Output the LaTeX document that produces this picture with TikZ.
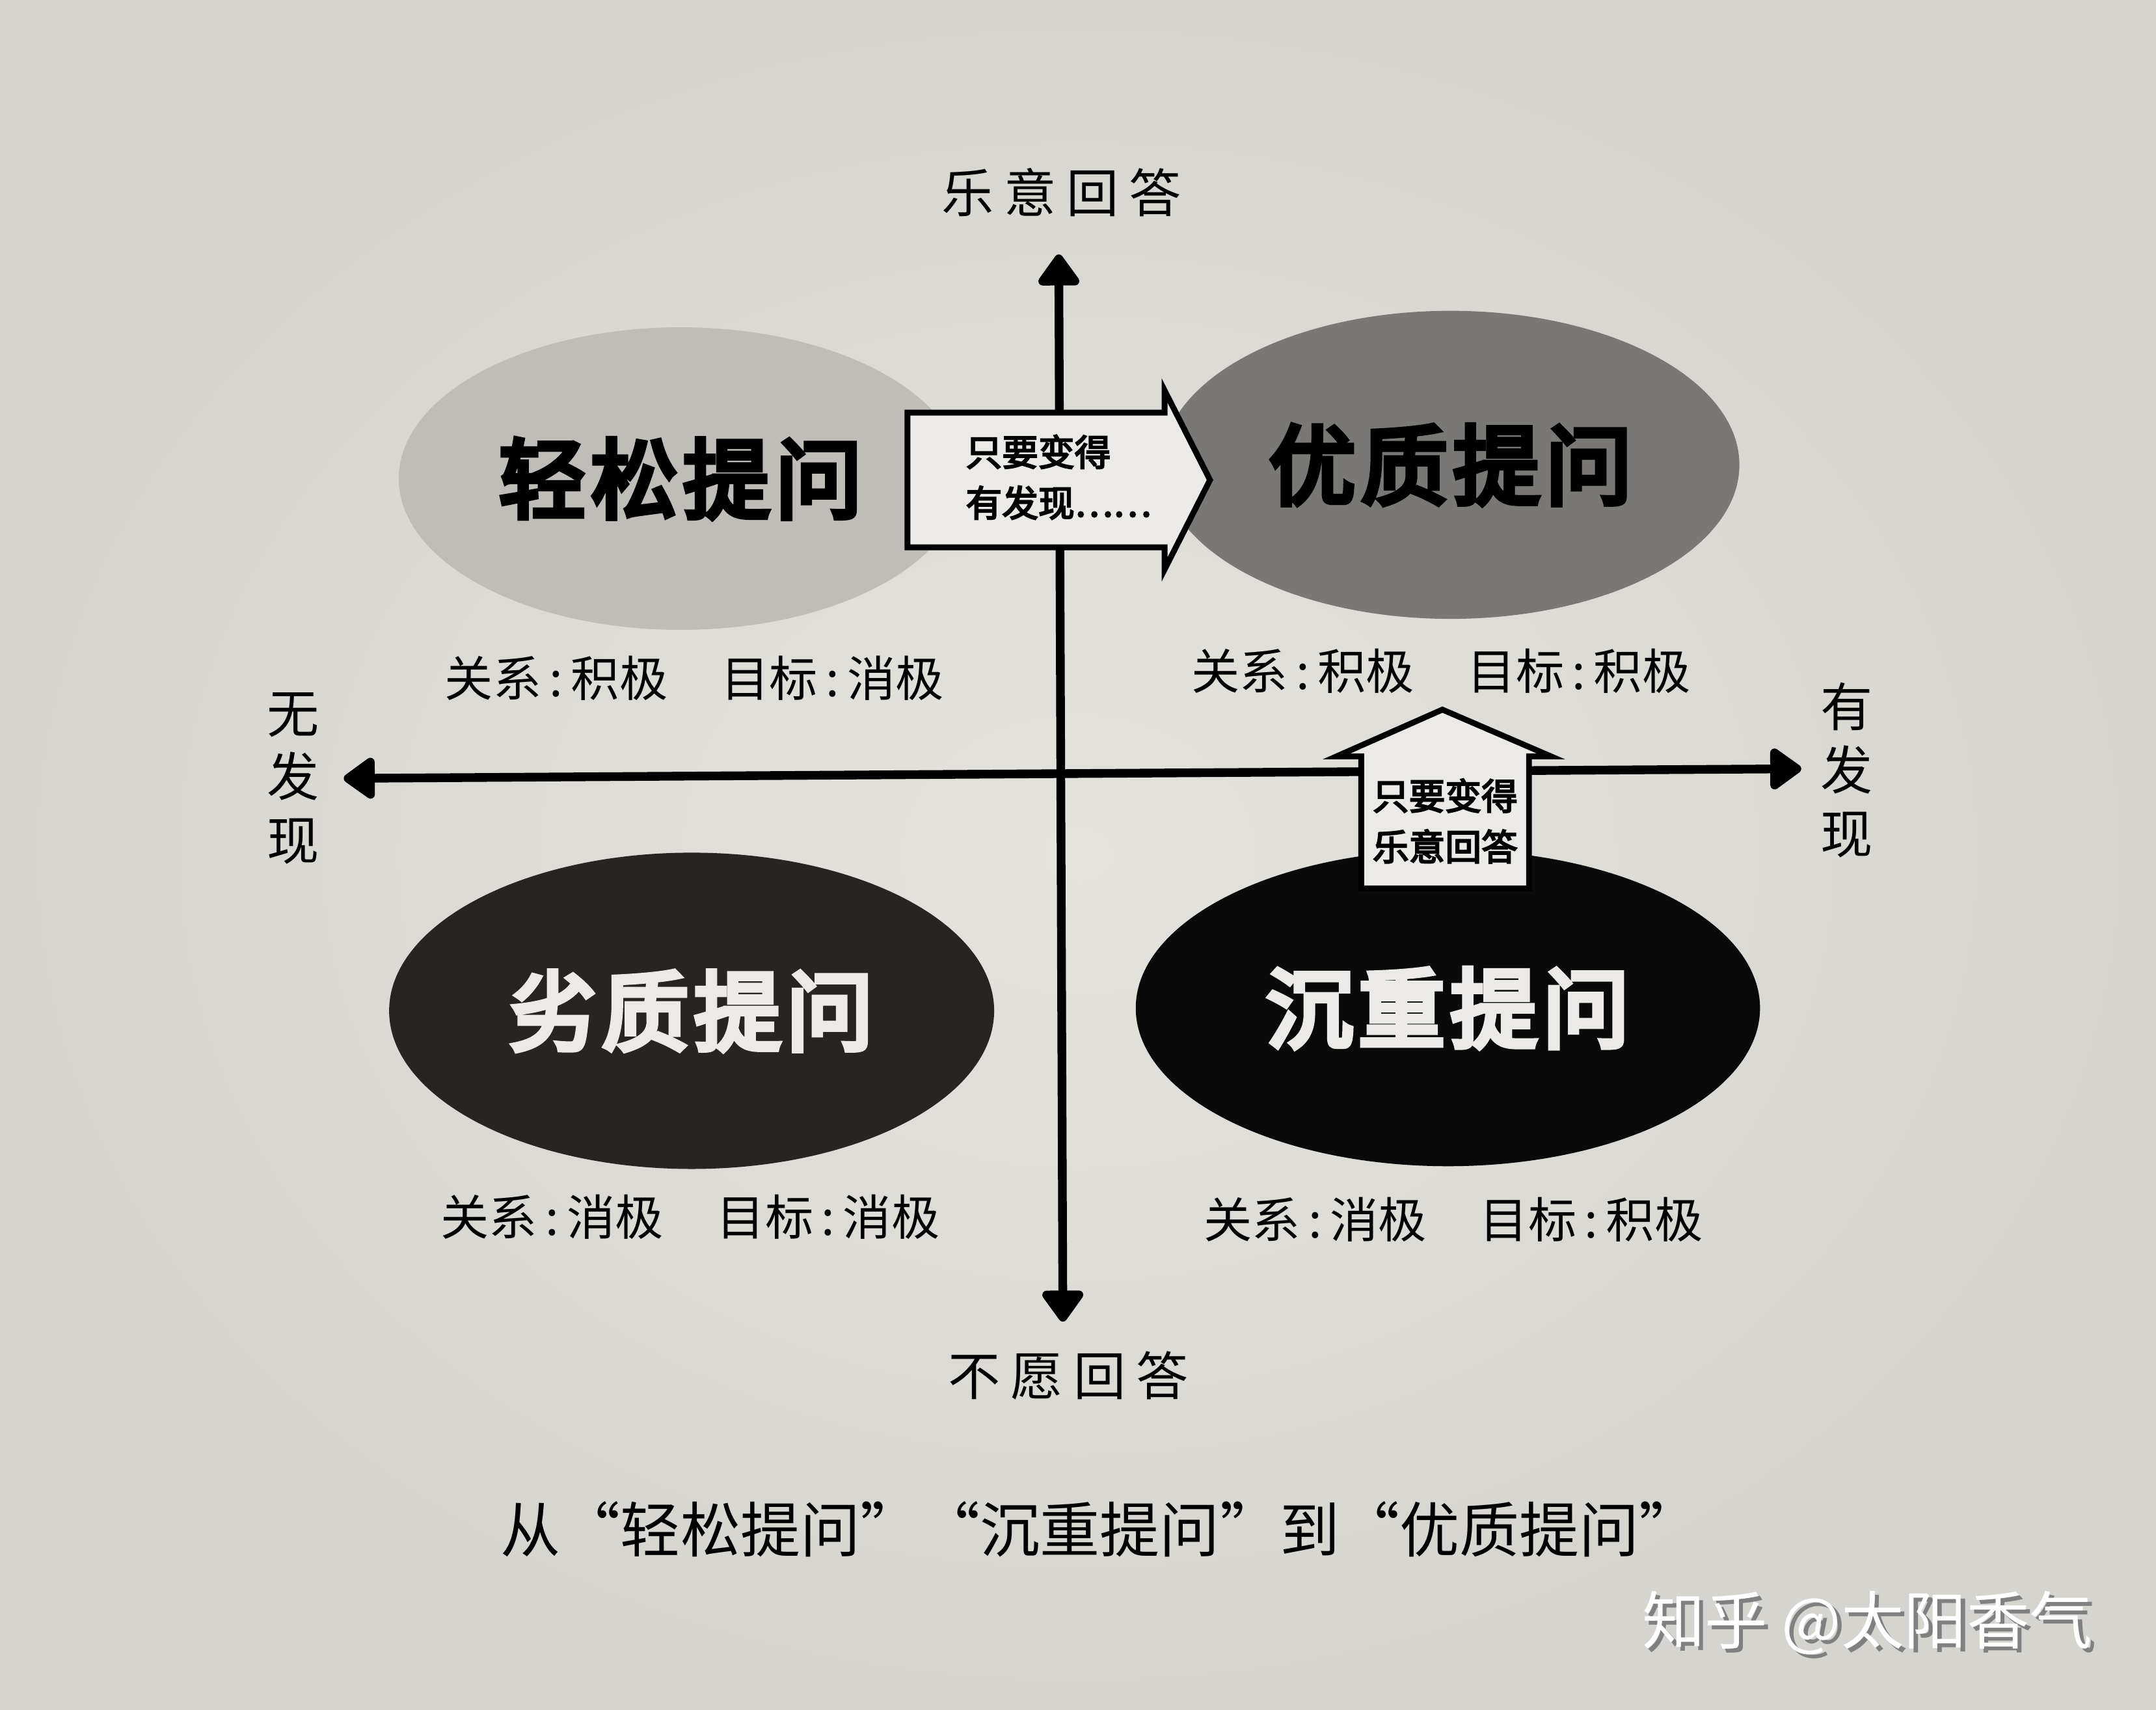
\documentclass[tikz,border=0pt]{standalone}
\usepackage{fontspec}
\usepackage{tikz}
\usetikzlibrary{arrows.meta,positioning,shapes.geometric}
\newfontfamily\cjk{Noto Sans CJK SC}
\newfontfamily\cjkwide[LetterSpace=20]{Noto Sans CJK SC}
\newfontfamily\cjkheavy[LetterSpace=6,FakeBold=6]{Noto Sans CJK SC}
\newfontfamily\cjkmedium[FakeBold=4]{Noto Sans CJK SC}
\definecolor{paper}{RGB}{229,227,222}
\definecolor{paperedge}{RGB}{214,212,207}
\definecolor{lightpaper}{RGB}{236,234,230}
\definecolor{softgray}{RGB}{192,189,184}
\definecolor{midgray}{RGB}{122,120,116}
\definecolor{darkgray}{RGB}{38,37,36}
\definecolor{inkblack}{RGB}{10,10,10}

\begin{document}
\begin{tikzpicture}[
  axis/.style={line width=1.8pt,{Triangle[length=0.25cm,width=0.34cm,round]}-{Triangle[length=0.25cm,width=0.34cm,round]}},
  axislabel/.style={font=\cjkwide\fontsize{10.8}{13}\selectfont},
  sidelabel/.style={font=\cjk\fontsize{10.8}{13.1}\selectfont,align=center},
  blob/.style={ellipse,inner sep=0pt,font=\cjkheavy\fontsize{18}{22}\selectfont},
  pairnote/.style={font=\cjk\fontsize{10}{12}\selectfont},
  tipnote/.style={font=\cjkmedium\fontsize{7.5}{10.5}\selectfont},
  signpost/.style={line width=1.2pt,fill=lightpaper,line join=miter}
]

\useasboundingbox (0,0) rectangle (15.68,12.43);
\shade[inner color=paper,outer color=paperedge] (0,0) rectangle (15.68,12.43);

\node[blob,fill=softgray,minimum width=4.10cm,minimum height=2.20cm] (easy) at (4.95,8.95) {轻松提问};
\node[blob,fill=midgray,minimum width=4.20cm,minimum height=2.24cm] (good) at (10.55,9.05) {优质提问};
\node[blob,fill=darkgray,text=lightpaper,minimum width=4.40cm,minimum height=2.30cm] (poor) at (5.03,5.08) {劣质提问};
\node[blob,fill=inkblack,text=lightpaper,minimum width=4.54cm,minimum height=2.30cm] (heavy) at (10.53,5.10) {沉重提问};

\node[pairnote] (easynote) at (5.05,7.50) {关系\,:\,积极\hspace{1.1em}目标\,:\,消极};
\node[pairnote] (goodnote) at (10.48,7.55) {关系\,:\,积极\hspace{1.1em}目标\,:\,积极};
\node[pairnote] (poornote) at (5.02,3.58) {关系\,:\,消极\hspace{1.1em}目标\,:\,消极};
\node[pairnote] (heavynote) at (10.57,3.56) {关系\,:\,消极\hspace{1.1em}目标\,:\,积极};

\coordinate (west) at (2.50,6.77);
\coordinate (east) at (13.10,6.84);
\coordinate (north) at (7.70,10.58);
\coordinate (south) at (7.73,2.82);
\draw[axis] (west) -- (east);
\draw[axis] (south) -- (north);

\node[axislabel] (willing) at (7.72,11.03) {乐意回答};
\node[axislabel] (unwilling) at (7.77,2.43) {不愿回答};
\node[sidelabel] (nofind) at (2.13,6.77) {无\\发\\现};
\node[sidelabel] (find) at (13.43,6.83) {有\\发\\现};

\draw[signpost] (6.60,9.43) -- (8.47,9.43) -- (8.47,9.59) -- (8.80,8.94) -- (8.47,8.29) -- (8.47,8.45) -- (6.60,8.45) -- cycle;
\node[tipnote,anchor=west,align=left] (discover) at (6.90,8.96) {只要变得\\有发现……};

\draw[signpost] (9.90,5.97) -- (9.90,6.93) -- (9.72,6.93) -- (10.49,7.27) -- (11.28,6.93) -- (11.12,6.93) -- (11.12,5.97) -- cycle;
\node[tipnote,align=center] (answer) at (10.51,6.46) {只要变得\\乐意回答};

\node[font=\cjk\fontsize{12.4}{14}\selectfont] (caption) at (8.00,1.31) {从“轻松提问”“沉重提问”到“优质提问”};

\node[font=\cjk\fontsize{13}{15}\selectfont,text=gray] (markshadow) at (13.61,0.60) {知乎 @太阳香气};
\node[font=\cjk\fontsize{13}{15}\selectfont,text=white] (mark) at (13.58,0.63) {知乎 @太阳香气};

\end{tikzpicture}
\end{document}
